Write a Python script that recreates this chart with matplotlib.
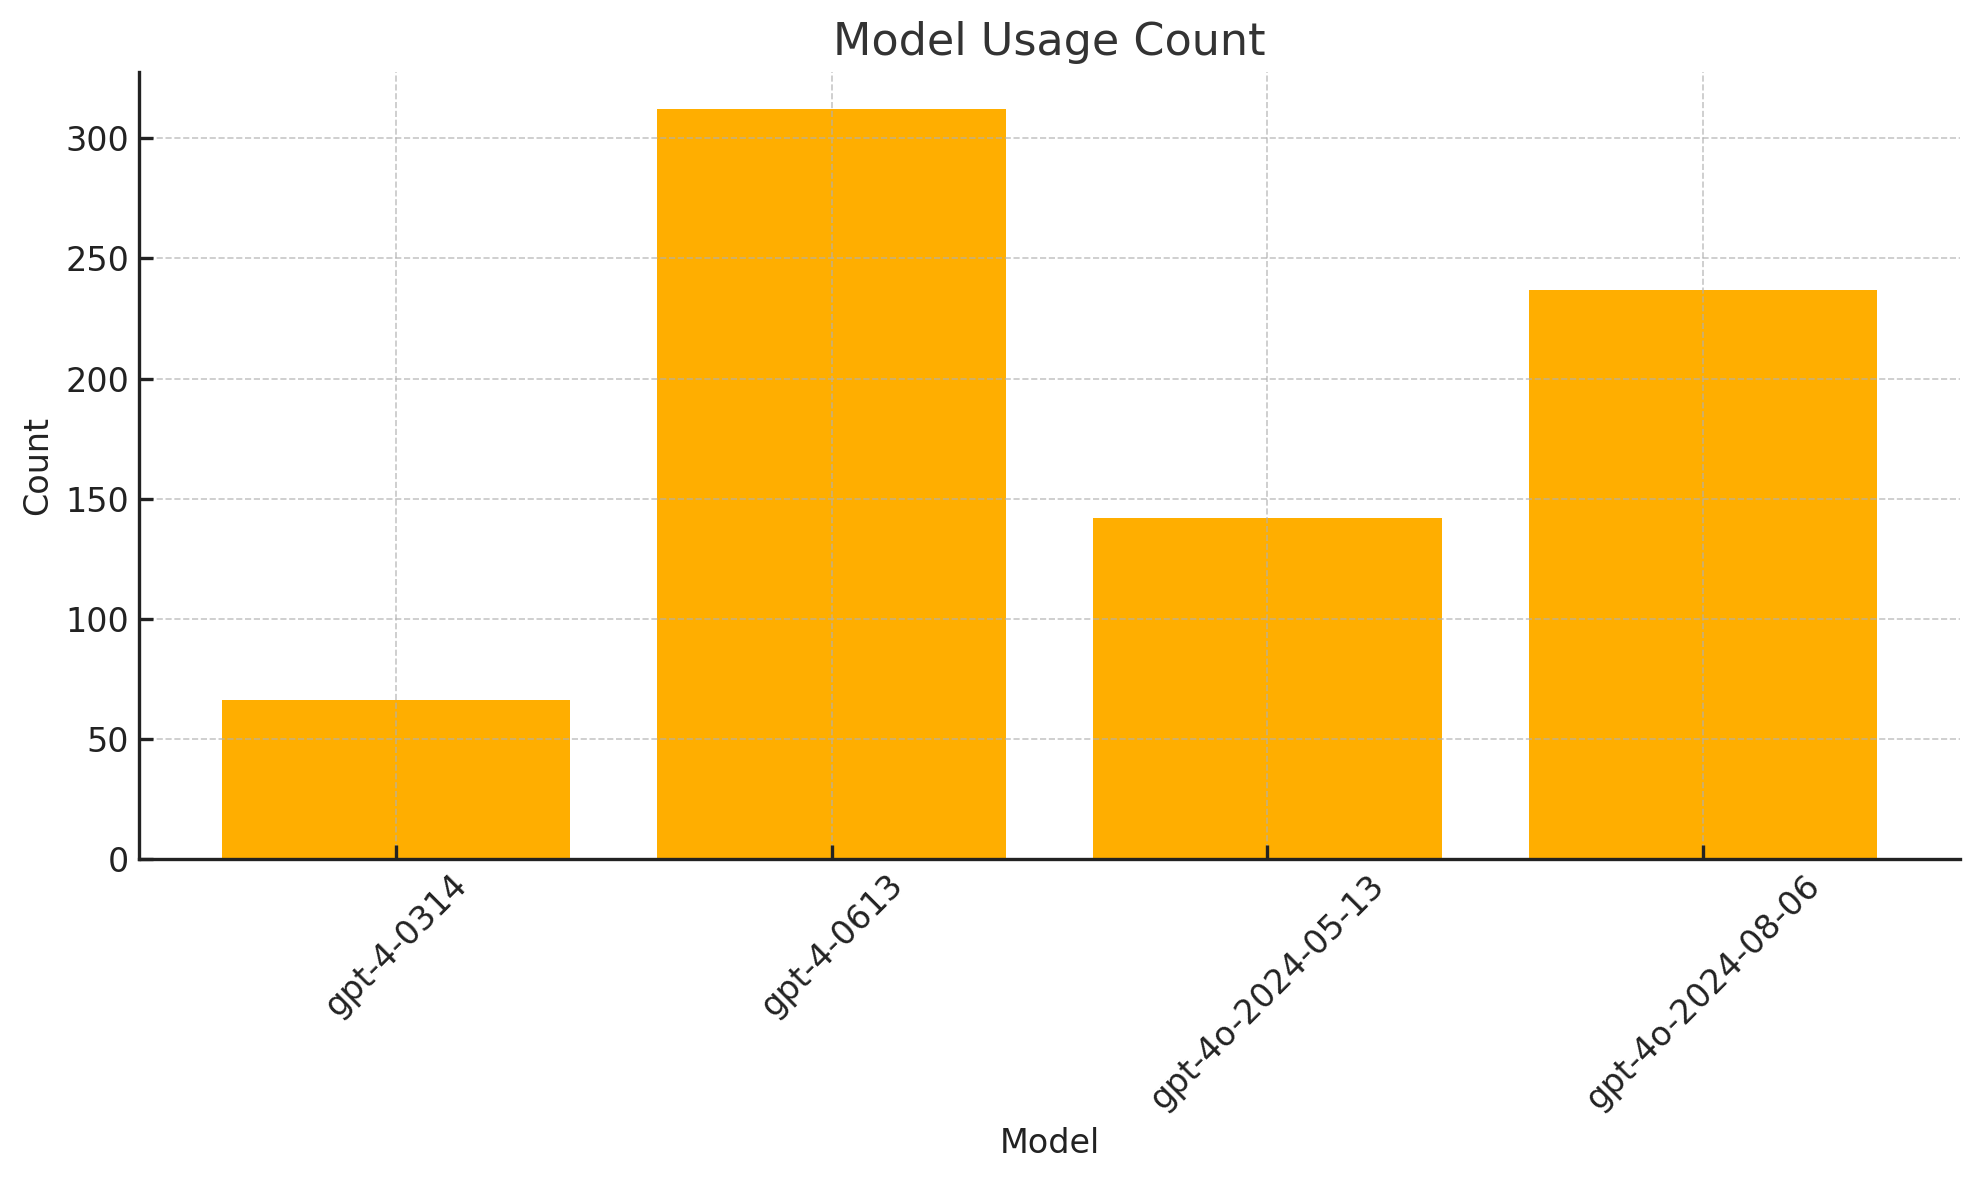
import numpy as np
import matplotlib
matplotlib.use('Agg')
import matplotlib.pyplot as plt

# Datos
models = ['gpt-4-0314', 'gpt-4-0613', 'gpt-4o-2024-05-13', 'gpt-4o-2024-08-06']
counts = [66, 312, 142, 237]

plt.rcParams['font.family'] = ['DejaVu Sans']

fig = plt.figure(figsize=(1979/200, 1180/200), dpi=200)
ax = fig.add_axes([139/1979, 1-859/1180, (1960-139)/1979, (859-72)/1180])

ax.bar(models, counts, color='#FFAE00', width=0.8)

ax.set_title('Model Usage Count', fontsize=16, color='#333333')
ax.set_xlabel('Model', fontsize=12, color='#222222')
ax.set_ylabel('Count', fontsize=12, color='#222222')

ax.tick_params(axis='both', direction='in', labelsize=12, colors='#222222',
               length=5, width=1.2)
plt.setp(ax.get_xticklabels(), rotation=45)

ax.grid(True, linestyle='--', color='#b0b0b0', alpha=0.7, linewidth=0.6)

for s in ['top', 'right']:
    ax.spines[s].set_visible(False)
for s in ['left', 'bottom']:
    ax.spines[s].set_color('#222222')
    ax.spines[s].set_linewidth(1.2)

fig.savefig('out.png', dpi=200)
